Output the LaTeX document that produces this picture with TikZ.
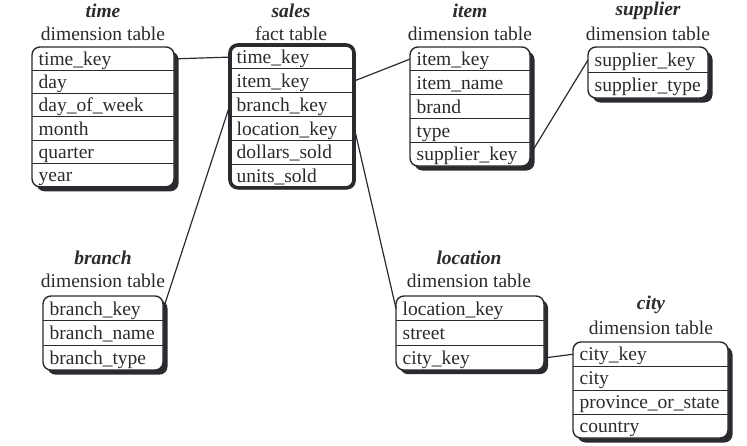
\documentclass[tikz,border=0pt]{standalone}
\usepackage{fontspec}
\setmainfont{Liberation Serif}
\definecolor{shadowc}{HTML}{2A2B2E}
\definecolor{inkc}{HTML}{2A2B2E}
\tikzset{
  tabborder/.style={draw=inkc, line width=1.4pt},
  salesborder/.style={draw=inkc, line width=3.6pt},
  rowline/.style={draw=inkc, line width=1pt},
  rowbox/.style={anchor=north west, inner xsep=6.5pt, inner ysep=0pt, align=left,
    text height=17pt, text depth=4pt,
    font=\fontsize{19.5}{21}\selectfont, text=inkc},
  tabtitle/.style={font=\fontsize{19.5}{21}\selectfont\bfseries\itshape, text=inkc, inner sep=0pt},
  tabsub/.style={font=\fontsize{19.5}{21}\selectfont, text=inkc, inner sep=0pt},
  conn/.style={draw=inkc, line width=1.2pt},
}
% #1 border style, #2 name, #3 left, #4 top, #5 right, #6 row height, #7 rows, #8 shadow offset, #9 list
\newcommand{\dimtab}[9][tabborder]{%
  \pgfmathsetmacro{\tbot}{#4+#7*#6}%
  \pgfmathsetmacro{\tw}{#5-#3-13}%
  \pgfmathsetmacro{\tww}{#5-#3}%
  \fill[shadowc, rounded corners=8pt] ({#3+#8},{#4+#8}) rectangle ({#5+#8},{\tbot+#8});
  \draw[#1, fill=white, rounded corners=8pt] (#3,#4) rectangle (#5,\tbot);
  \foreach \t [count=\i] in {#9} {
    \node[rowbox, text width=\tw pt, minimum width=\tww pt, minimum height=#6 pt] (#2-\i) at (#3,{#4+(\i-1)*#6}) {\t};
    \ifnum\i>1 \draw[rowline] (#2-\i.north west) -- (#2-\i.north east);\fi
  }
}
\begin{document}
\begin{tikzpicture}[x=1pt,y=-1pt]
\useasboundingbox (0,0) rectangle (747,445);

% titles
\node[tabtitle] (time-t) at (103,11) {time};
\node[tabsub] (time-s) at (103,34) {dimension table};
\node[tabtitle] (sales-t) at (291,11) {sales};
\node[tabsub] (sales-s) at (291,34) {fact table};
\node[tabtitle] (item-t) at (470,11) {item};
\node[tabsub] (item-s) at (470,34) {dimension table};
\node[tabtitle] (supplier-t) at (648,11) {supplier};
\node[tabsub] (supplier-s) at (648,34) {dimension table};
\node[tabtitle] (branch-t) at (103,258) {branch};
\node[tabsub] (branch-s) at (103,281) {dimension table};
\node[tabtitle] (location-t) at (469,258) {location};
\node[tabsub] (location-s) at (469,281) {dimension table};
\node[tabtitle] (city-t) at (651,305) {city};
\node[tabsub] (city-s) at (651,328) {dimension table};

% tables
\dimtab{time}{32}{47}{174}{23.3}{6}{4.5}{time\_key,day,day\_of\_week,month,quarter,year}
\dimtab[salesborder]{sales}{230}{45}{354}{23.8}{6}{1.5}{time\_key,item\_key,branch\_key,location\_key,dollars\_sold,units\_sold}
\dimtab{item}{410}{47}{530}{23.8}{5}{4.5}{item\_key,item\_name,brand,type,supplier\_key}
\dimtab{supplier}{588}{47}{708}{25.5}{2}{4.5}{supplier\_key,supplier\_type}
\dimtab{branch}{43}{296}{163}{24.7}{3}{4.5}{branch\_key,branch\_name,branch\_type}
\dimtab{location}{396}{296}{544}{24.7}{3}{4}{location\_key,street,city\_key}
\dimtab{city}{573}{342}{728}{24}{4}{4.5}{city\_key,city,province\_or\_state,country}

% connectors
\draw[conn] (time-1.east) -- (sales-1.west);
\draw[conn] (sales-2.east) -- (item-1.west);
\draw[conn] (sales-3.west) -- (branch-1.east);
\draw[conn] (sales-4.east) -- (location-1.west);
\draw[conn] (item-5.east) -- (supplier-1.west);
\draw[conn] (location-3.east) -- (city-1.west);
\end{tikzpicture}
\end{document}
